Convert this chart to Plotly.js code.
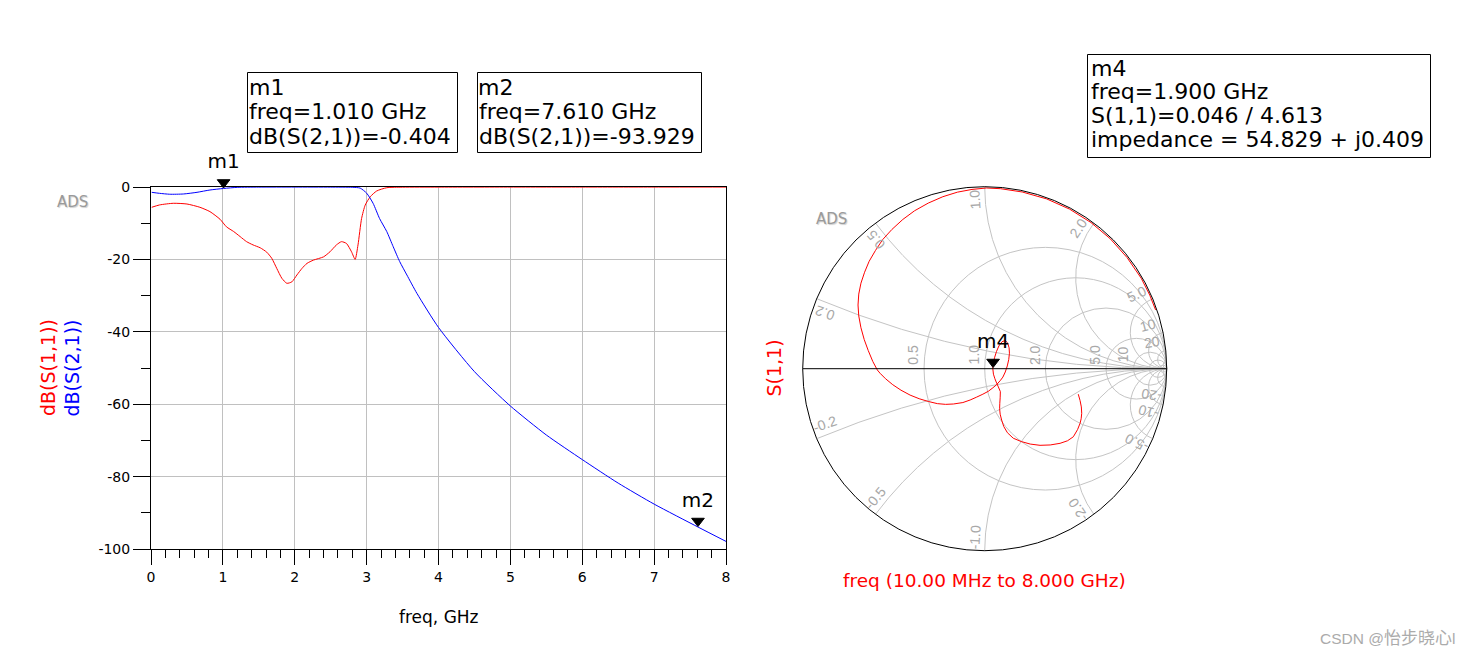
<!DOCTYPE html>
<html><head><meta charset="utf-8">
<script src="https://cdn.plot.ly/plotly-3.0.1.min.js"></script>
<style>html,body{margin:0;padding:0;background:#fff;}#chart{width:1472px;height:658px;}</style>
</head><body><div id="chart"></div>
<script>
// ---- Data ----
// dB(S(1,1)) vs freq (GHz)
const s11Freq = [0.01,0.12,0.31,0.50,0.68,0.82,0.96,1.05,1.15,1.24,1.33,1.42,1.52,1.61,1.68,1.75,1.82,1.89,1.96,2.03,2.10,2.17,2.26,2.40,2.49,2.58,2.65,2.72,2.79,2.84,2.88,2.93,2.98,3.05,3.14,3.28,3.50,4.0,5.0,6.0,7.0,8.0];
const s11dB   = [-5.6,-4.95,-4.5,-4.7,-5.6,-6.8,-8.9,-11.0,-12.3,-13.7,-15.1,-16.0,-16.8,-18.0,-19.7,-22.5,-25.2,-26.6,-26.2,-24.3,-22.5,-21.1,-20.2,-19.3,-17.9,-16.0,-15.1,-15.6,-17.9,-20.0,-16.0,-8.7,-5.0,-2.7,-1.1,-0.2,-0.05,-0.03,-0.02,-0.02,-0.02,-0.02];
// dB(S(2,1)) vs freq (GHz)
const s21Freq = [0.01,0.12,0.26,0.45,0.64,0.82,1.01,1.2,1.5,2.0,2.5,2.8,2.91,3.0,3.09,3.18,3.28,3.37,3.46,3.56,3.70,4.0,4.5,5.0,5.5,6.0,6.5,7.0,7.61,8.0];
const s21dB   = [-1.47,-1.75,-2.0,-1.93,-1.47,-0.83,-0.404,-0.1,-0.03,-0.02,-0.03,-0.08,-0.3,-1.7,-4.5,-8.7,-12.3,-16.5,-20.6,-24.3,-29.4,-38.8,-51,-60.5,-68.5,-75.3,-81.8,-87.6,-93.93,-97.9];
// S(1,1) reflection coefficient (low -> high freq)
const gammaRe = [0.514,0.524,0.531,0.533,0.530,0.524,0.510,0.487,0.455,0.414,0.360,0.304,0.250,0.200,0.157,0.125,0.105,0.093,0.085,0.082,0.083,0.085,0.086,0.075,0.066,0.056,0.048,0.044,
  0.047,0.054,0.065,0.078,0.095,0.112,0.126,0.134,0.136,0.132,0.124,0.113,0.100,0.085,0.065,0.045,0.020,-0.010,-0.044,-0.080,-0.120,-0.172,-0.215,-0.260,-0.310,-0.360,-0.410,-0.460,-0.505,-0.545,-0.575,-0.590,
  -0.615,-0.640,-0.662,-0.680,-0.692,-0.696,-0.692,-0.680,-0.660,-0.635,-0.600,-0.560,-0.510,-0.450,-0.385,-0.310,-0.230,-0.150,-0.070,0.010,
  0.087,0.206,0.340,0.466,0.584,0.690,0.782,0.860,0.907,0.939];
const gammaIm = [-0.140,-0.175,-0.210,-0.245,-0.275,-0.300,-0.335,-0.374,-0.396,-0.410,-0.419,-0.421,-0.414,-0.400,-0.382,-0.352,-0.318,-0.282,-0.250,-0.220,-0.190,-0.160,-0.126,-0.100,-0.080,-0.055,-0.030,0.005,
  0.030,0.060,0.095,0.125,0.148,0.155,0.142,0.115,0.085,0.050,0.015,-0.018,-0.046,-0.066,-0.088,-0.105,-0.124,-0.140,-0.156,-0.172,-0.186,-0.194,-0.196,-0.192,-0.180,-0.165,-0.145,-0.118,-0.088,-0.055,-0.025,-0.007,
  0.040,0.100,0.160,0.225,0.290,0.350,0.410,0.470,0.530,0.590,0.650,0.710,0.765,0.820,0.868,0.910,0.945,0.970,0.985,0.993,
  0.989,0.971,0.933,0.877,0.803,0.714,0.611,0.497,0.404,0.323];
// markers
const markerNames = ['m1','m2'];
const markerFreq  = [1.010, 7.610];
const markerdB    = [-0.404, -93.929];
const m4Name = 'm4';
const m4Freq = 1.900;
const m4S11 = [0.046, 4.613];
const m4Impedance = [54.829, 0.409];
const z0 = 50;
// axis ticks
const xTickVals = [0,1,2,3,4,5,6,7,8];
const xTickText = ['0','1','2','3','4','5','6','7','8'];
const yTickVals = [-100,-80,-60,-40,-20,0];
const yTickText = ['-100','-80','-60','-40','-20','0'];
const smithRealGrid = [0.5,1,2,5,10,20,50];
const smithImagGrid = [0.2,0.5,1,2,5,10,20,50];
const smithRealLabelVals = [0.5,1,2,5,10];
const smithImagLabelVals = [0.2,0.5,1,2,5,10,20];

// ---- helpers ----
const W = 1472, H = 658;
const px = p => p / W, py = p => 1 - p / H;
function gammaToZ(gr, gi) {
  const d = (1 - gr) * (1 - gr) + gi * gi;
  return [(1 - gr * gr - gi * gi) / d, 2 * gi / d];
}
const zRe = [], zIm = [];
gammaRe.forEach((g, i) => { const z = gammaToZ(g, gammaIm[i]); zRe.push(z[0]); zIm.push(z[1]); });
function fmt(v) { const a = Math.abs(v); const s = a < 10 ? a.toFixed(1) : String(a); return (v < 0 ? '-' : '') + s; }

const FONT = 'DejaVu Sans';
const SM = {cx: 984.7, cy: 368.7, R: 182};

const triMarker = {symbol:'triangle-up', angle:180, standoff:6, size:11, color:'black', line:{color:'black', width:1}};
const traces = [
  {type:'scatter', x:s11Freq, y:s11dB, mode:'lines', line:{color:'#ff0000', width:1, shape:'spline', smoothing:0.6}, hoverinfo:'skip'},
  {type:'scatter', x:s21Freq, y:s21dB, mode:'lines', line:{color:'#0000ff', width:1, shape:'spline', smoothing:0.6}, hoverinfo:'skip'},
  {type:'scatter', x:markerFreq, y:markerdB, mode:'markers', cliponaxis:false, marker:triMarker},
  {type:'scatter', x:markerFreq, y:markerdB, mode:'markers+text', cliponaxis:false, text:markerNames,
   textposition:'top center', textfont:{family:FONT, size:20, color:'black'},
   marker:{size:23, color:'rgba(0,0,0,0)'}},
  {type:'scattersmith', real:zRe, imag:zIm, mode:'lines', line:{color:'#ff0000', width:1}, subplot:'smith'},
  {type:'scattersmith', real:[m4Impedance[0]/z0], imag:[m4Impedance[1]/z0], mode:'markers', cliponaxis:false,
   marker:triMarker, subplot:'smith'},
  {type:'scattersmith', real:[m4Impedance[0]/z0], imag:[m4Impedance[1]/z0], mode:'markers+text', cliponaxis:false,
   text:[m4Name], textposition:'top center', textfont:{family:FONT, size:20, color:'black'},
   marker:{size:23, color:'rgba(0,0,0,0)'}, subplot:'smith'}
];

const annotations = [];
const shapes = [];
function addText(t, x, y, opt) {
  annotations.push(Object.assign({text:t, x:px(x), y:py(y), xref:'paper', yref:'paper', showarrow:false,
    xanchor:'center', yanchor:'middle', font:{family:FONT, size:22, color:'black'}}, opt || {}));
}
// marker readout boxes
function addBox(lines, x0, x1, y0, y1, tx, baselines) {
  shapes.push({type:'rect', xref:'paper', yref:'paper', x0:px(x0), x1:px(x1), y0:py(y1), y1:py(y0), line:{color:'black', width:1}});
  lines.forEach((l, i) => addText(l, tx, baselines[i] - 7.6, {xanchor:'left', yanchor:'middle'}));
}
addBox([markerNames[0], 'freq=' + markerFreq[0].toFixed(3) + ' GHz', 'dB(S(2,1))=' + markerdB[0].toFixed(3)],
  247.5, 457.5, 72.5, 152.5, 246.5, [95, 119.5, 144]);
addBox([markerNames[1], 'freq=' + markerFreq[1].toFixed(3) + ' GHz', 'dB(S(2,1))=' + markerdB[1].toFixed(3)],
  477.5, 701.5, 72.5, 152.5, 476.5, [95, 119.5, 144]);
addBox([m4Name, 'freq=' + m4Freq.toFixed(3) + ' GHz', 'S(1,1)=' + m4S11[0].toFixed(3) + ' / ' + m4S11[1].toFixed(3),
  'impedance = ' + m4Impedance[0].toFixed(3) + ' + j' + m4Impedance[1].toFixed(3)],
  1087.5, 1430.5, 54.5, 157.5, 1088.5, [75.7, 99.3, 123.3, 146.7]);

// y-axis titles (two colours)
addText('dB(S(1,1))', 48, 368, {textangle:-90, font:{family:FONT, size:19, color:'#ff0000'}});
addText('dB(S(2,1))', 71.5, 368, {textangle:-90, font:{family:FONT, size:19, color:'#0000ff'}});
// x-axis title
addText('freq, GHz', 438.5, 617, {font:{family:FONT, size:17, color:'black'}});
// smith titles
addText('S(1,1)', 773, 368.5, {textangle:-90, font:{family:FONT, size:19, color:'#ff0000'}});
addText('freq (10.00 MHz to 8.000 GHz)', 984.5, 580.5, {font:{family:FONT, size:18.5, color:'#ff0000'}});
// ADS watermarks
addText('ADS', 72, 202, {font:{family:FONT, size:15, color:'#9a9a9a', shadow:'1px 1px 1px #cfcfcf'}});
addText('ADS', 831, 219, {font:{family:FONT, size:15, color:'#9a9a9a', shadow:'1px 1px 1px #cfcfcf'}});
// CSDN watermark
addText('CSDN @<span style="font-size:17px">怡步晓心</span>l', 1457, 638,
  {xanchor:'right', font:{family:'Liberation Sans, Noto Sans CJK SC', size:15.5, color:'#ababab'}});

// smith grid labels
const labFont = {family:'Liberation Sans', size:14, color:'#a8a8a8'};
smithRealLabelVals.forEach(v => {
  const g = (v - 1) / (v + 1);
  addText(fmt(v), SM.cx + g * SM.R - 11, SM.cy - 14, {textangle:-90, font:labFont});
});
smithImagLabelVals.concat(smithImagLabelVals.map(v => -v)).forEach(v => {
  const phi = Math.atan2(2 * v, v * v - 1) * 180 / Math.PI;
  const phiL = phi + Math.sign(v) * 3.4;
  const rL = 0.93 * SM.R;
  const x = SM.cx + rL * Math.cos(phiL * Math.PI / 180);
  const y = SM.cy - rL * Math.sin(phiL * Math.PI / 180);
  let alpha = v > 0 ? phiL : phiL + 180;
  let ta = -alpha; while (ta > 180) ta -= 360; while (ta <= -180) ta += 360;
  addText(fmt(v), x, y, {textangle:ta, font:labFont});
});

const axisCommon = {showline:true, linecolor:'black', linewidth:1, mirror:true, ticks:'outside', tickcolor:'black', tickwidth:1,
  showgrid:true, gridcolor:'#c0c0c0', gridwidth:1, zeroline:false, fixedrange:true,
  tickfont:{family:FONT, size:14, color:'black'}};

const layout = {
  width:W, height:H, margin:{l:0, r:0, t:0, b:0}, paper_bgcolor:'white', plot_bgcolor:'white',
  showlegend:false, font:{family:FONT, color:'black'},
  xaxis: Object.assign({}, axisCommon, {domain:[px(151), px(726)], range:[0, 8], tickmode:'array', tickvals:xTickVals, ticktext:xTickText,
    ticklen:15, minor:{tickmode:'linear', tick0:0, dtick:0.2, ticklen:8, ticks:'outside', tickcolor:'black', showgrid:false}}),
  yaxis: Object.assign({}, axisCommon, {domain:[py(549), py(187)], range:[-100, 0], tickmode:'array', tickvals:yTickVals, ticktext:yTickText,
    ticklen:17, minor:{tickmode:'linear', tick0:0, dtick:10, ticklen:9, ticks:'outside', tickcolor:'black', showgrid:false}}),
  smith: {
    domain:{x:[px(SM.cx - SM.R), px(SM.cx + SM.R)], y:[py(SM.cy + SM.R), py(SM.cy - SM.R)]},
    bgcolor:'rgba(0,0,0,0)',
    realaxis:{tickvals:smithRealGrid, showticklabels:false, ticks:'', gridcolor:'#c4c4c4', gridwidth:1, linecolor:'black', linewidth:1, showline:true},
    imaginaryaxis:{tickvals:smithImagGrid.map(v => -v).concat(smithImagGrid), showticklabels:false, ticks:'', gridcolor:'#c4c4c4', gridwidth:1, linecolor:'black', linewidth:1, showline:true}
  },
  annotations:annotations, shapes:shapes
};

Plotly.newPlot('chart', traces, layout, {staticPlot:true, displayModeBar:false});
</script></body></html>
